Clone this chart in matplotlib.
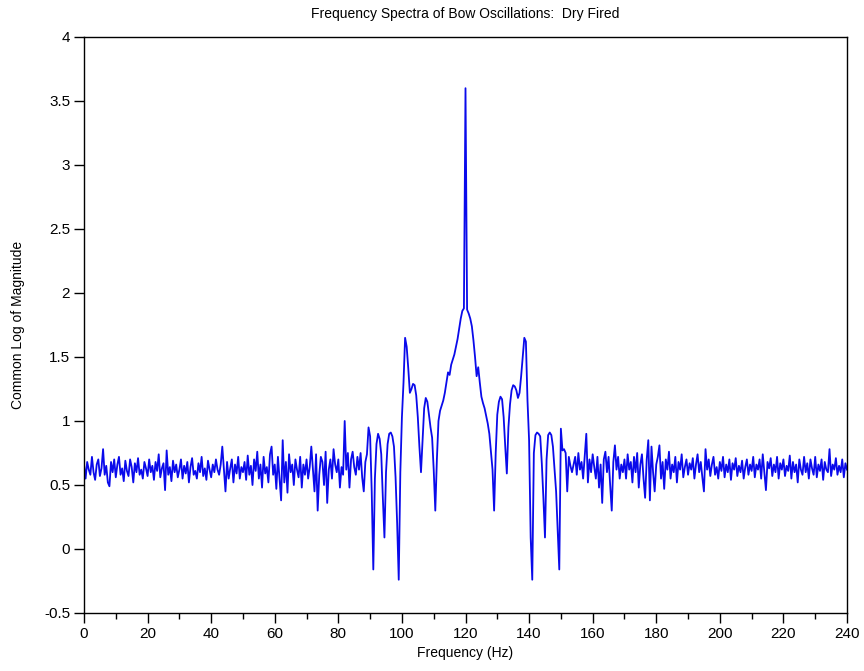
import numpy as np
import matplotlib
matplotlib.use("Agg")
import matplotlib.pyplot as plt
from matplotlib.ticker import MultipleLocator

freq_step = 0.5
freq_start = 0.0

mag_000 = [0.66, 0.55, 0.68, 0.62, 0.58, 0.72, 0.60, 0.54, 0.66, 0.70,
           0.57, 0.63, 0.78, 0.58, 0.65, 0.52, 0.49, 0.68, 0.60, 0.70]
mag_010 = [0.56, 0.66, 0.72, 0.58, 0.63, 0.53, 0.69, 0.61, 0.57, 0.70,
           0.64, 0.52, 0.67, 0.60, 0.71, 0.58, 0.62, 0.55, 0.68, 0.63]
mag_020 = [0.57, 0.70, 0.60, 0.65, 0.54, 0.68, 0.61, 0.74, 0.56, 0.63,
           0.67, 0.46, 0.77, 0.58, 0.64, 0.53, 0.69, 0.60, 0.66, 0.56]
mag_030 = [0.62, 0.70, 0.55, 0.65, 0.59, 0.68, 0.52, 0.64, 0.71, 0.58,
           0.61, 0.55, 0.67, 0.60, 0.72, 0.57, 0.63, 0.54, 0.69, 0.62]
mag_040 = [0.56, 0.66, 0.60, 0.70, 0.62, 0.58, 0.66, 0.80, 0.62, 0.45,
           0.68, 0.55, 0.63, 0.70, 0.52, 0.66, 0.59, 0.72, 0.55, 0.64]
mag_050 = [0.60, 0.68, 0.54, 0.73, 0.58, 0.65, 0.50, 0.70, 0.61, 0.76,
           0.55, 0.66, 0.48, 0.72, 0.59, 0.64, 0.52, 0.74, 0.80, 0.58]
mag_060 = [0.66, 0.47, 0.72, 0.55, 0.38, 0.85, 0.52, 0.68, 0.44, 0.74,
           0.60, 0.66, 0.50, 0.70, 0.62, 0.56, 0.72, 0.48, 0.66, 0.58]
mag_070 = [0.70, 0.55, 0.64, 0.80, 0.62, 0.45, 0.74, 0.30, 0.58, 0.72,
           0.68, 0.50, 0.76, 0.36, 0.62, 0.70, 0.55, 0.78, 0.66, 0.60]
mag_080 = [0.70, 0.48, 0.64, 0.58, 1.00, 0.62, 0.75, 0.48, 0.70, 0.76,
           0.64, 0.58, 0.72, 0.62, 0.75, 0.56, 0.45, 0.68, 0.74, 0.95]
mag_090 = [0.88, 0.45, -0.16, 0.55, 0.82, 0.90, 0.86, 0.74, 0.40, 0.09,
           0.60, 0.82, 0.90, 0.91, 0.88, 0.80, 0.56, 0.20, -0.24, 0.60]
mag_100 = [1.03, 1.30, 1.65, 1.58, 1.41, 1.22, 1.25, 1.29, 1.28, 1.20,
           1.03, 0.80, 0.60, 0.85, 1.10, 1.18, 1.15, 1.05, 0.95, 0.87]
mag_110 = [0.62, 0.30, 0.70, 1.00, 1.08, 1.12, 1.16, 1.22, 1.30, 1.38,
           1.36, 1.44, 1.48, 1.52, 1.58, 1.64, 1.72, 1.80, 1.86, 1.88]
mag_120 = [3.60, 1.87, 1.84, 1.80, 1.74, 1.63, 1.50, 1.35, 1.42, 1.30,
           1.19, 1.14, 1.10, 1.04, 0.98, 0.90, 0.76, 0.62, 0.30, 0.75]
mag_130 = [1.05, 1.15, 1.19, 1.17, 1.03, 0.80, 0.59, 0.95, 1.13, 1.24,
           1.28, 1.27, 1.24, 1.18, 1.22, 1.35, 1.50, 1.65, 1.62, 1.16]
mag_140 = [0.85, 0.09, -0.24, 0.75, 0.89, 0.91, 0.90, 0.88, 0.67, 0.40,
           0.09, 0.70, 0.89, 0.91, 0.89, 0.80, 0.63, 0.45, 0.15, -0.16]
mag_150 = [0.94, 0.77, 0.78, 0.75, 0.45, 0.72, 0.65, 0.60, 0.66, 0.72,
           0.58, 0.75, 0.62, 0.68, 0.55, 0.72, 0.90, 0.52, 0.70, 0.60]
mag_160 = [0.74, 0.64, 0.55, 0.72, 0.48, 0.66, 0.36, 0.70, 0.76, 0.60,
           0.72, 0.50, 0.30, 0.68, 0.81, 0.62, 0.72, 0.55, 0.66, 0.60]
mag_170 = [0.70, 0.55, 0.74, 0.62, 0.68, 0.52, 0.72, 0.60, 0.75, 0.48,
           0.66, 0.74, 0.55, 0.40, 0.70, 0.85, 0.38, 0.80, 0.60, 0.45]
mag_180 = [0.66, 0.72, 0.81, 0.55, 0.68, 0.47, 0.70, 0.62, 0.76, 0.55,
           0.66, 0.60, 0.72, 0.52, 0.68, 0.62, 0.74, 0.56, 0.64, 0.70]
mag_190 = [0.58, 0.67, 0.62, 0.71, 0.55, 0.66, 0.74, 0.60, 0.68, 0.56,
           0.45, 0.78, 0.62, 0.70, 0.57, 0.66, 0.72, 0.58, 0.64, 0.55]
mag_200 = [0.68, 0.61, 0.72, 0.56, 0.66, 0.60, 0.70, 0.54, 0.67, 0.62,
           0.71, 0.57, 0.65, 0.60, 0.69, 0.55, 0.64, 0.70, 0.58, 0.66]
mag_210 = [0.61, 0.72, 0.56, 0.66, 0.62, 0.70, 0.55, 0.74, 0.60, 0.46,
           0.68, 0.63, 0.71, 0.57, 0.66, 0.60, 0.72, 0.55, 0.67, 0.62]
mag_220 = [0.70, 0.57, 0.65, 0.61, 0.73, 0.55, 0.68, 0.60, 0.66, 0.52,
           0.70, 0.62, 0.58, 0.72, 0.60, 0.67, 0.55, 0.70, 0.63, 0.58]
mag_230 = [0.72, 0.56, 0.66, 0.61, 0.70, 0.54, 0.68, 0.62, 0.60, 0.78,
           0.57, 0.66, 0.62, 0.71, 0.58, 0.65, 0.60, 0.70, 0.56, 0.67]
mag_240 = [0.62]

x_ticks = [0, 20, 40, 60, 80, 100, 120, 140, 160, 180, 200, 220, 240]
y_ticks = [-0.5, 0, 0.5, 1, 1.5, 2, 2.5, 3, 3.5, 4]
y_tick_labels = ["-0.5", "0", "0.5", "1", "1.5", "2", "2.5", "3", "3.5", "4"]

magnitude = np.array(mag_000 + mag_010 + mag_020 + mag_030 + mag_040 + mag_050
                     + mag_060 + mag_070 + mag_080 + mag_090 + mag_100 + mag_110
                     + mag_120 + mag_130 + mag_140 + mag_150 + mag_160 + mag_170
                     + mag_180 + mag_190 + mag_200 + mag_210 + mag_220 + mag_230
                     + mag_240)
frequency = freq_start + freq_step * np.arange(len(magnitude))

plt.rcParams['font.family'] = ['Liberation Sans', 'DejaVu Sans']

fig = plt.figure(figsize=(8.64, 6.71), dpi=100)
ax = fig.add_axes([84 / 864, 1 - 613 / 671, 763 / 864, 576 / 671])

ax.plot(frequency, magnitude, color='#0a0aeb', linewidth=1.3)

ax.set_xlim(0, 240)
ax.set_ylim(-0.5, 4)
ax.set_xticks(x_ticks)
ax.set_xticklabels([str(t) for t in x_ticks])
ax.xaxis.set_minor_locator(MultipleLocator(10))
ax.set_yticks(y_ticks)
ax.set_yticklabels(y_tick_labels)

ax.tick_params(axis='both', which='major', direction='out', length=7, width=1,
               labelsize=11, colors='black', pad=3)
ax.tick_params(axis='x', which='minor', direction='out', length=4, width=1)
for side in ['left', 'right', 'top', 'bottom']:
    ax.spines[side].set_linewidth(1.0)
    ax.spines[side].set_color('black')

ax.set_xlabel('Frequency (Hz)', fontsize=10, labelpad=4)
ax.set_ylabel('Common Log of Magnitude', fontsize=10, labelpad=14)
ax.set_title('Frequency Spectra of Bow Oscillations:  Dry Fired', fontsize=10, pad=14)

fig.savefig('out.png', dpi=100)
